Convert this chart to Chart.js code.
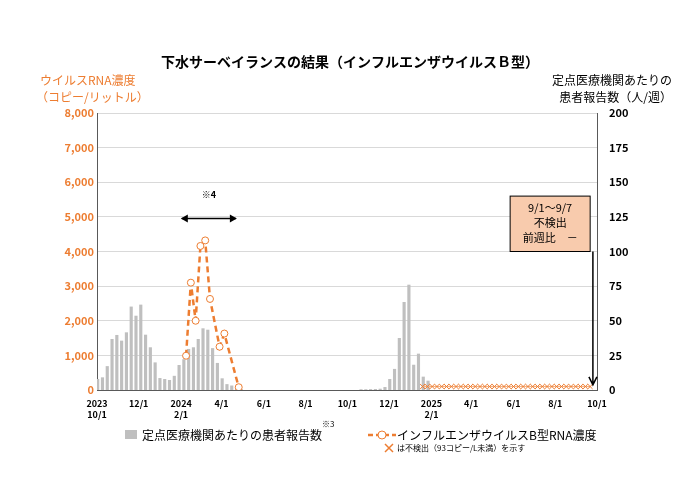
<!DOCTYPE html>
<html><head><meta charset="utf-8">
<script src="https://cdn.jsdelivr.net/npm/chart.js@4.4.1/dist/chart.umd.min.js"></script>
<style>html,body{margin:0;padding:0;background:#fff}#w{width:700px;height:495px;position:relative}</style>
</head><body><div id="w"><canvas id="c" width="700" height="495"></canvas></div>
<script>
// weeks since 2023-10-01
const patientWeeks = [0,1,2,3,4,5,6,7,8,9,10,11,12,13,14,15,16,17,18,19,20,21,22,23,24,25,26,27,28,29,30,
 55,56,57,58,59,60,61,62,63,64,65,66,67,68,69];
const patientValues = [7.7,8.9,17,36.6,39.5,35.4,41.4,60,53.4,61.4,39.7,30.6,19.7,8.4,7.7,7,10,17.8,22,29.4,30.6,36.6,44.3,43.3,30,19.3,8.2,4,3,1,0.5,
 0.3,0.3,0.4,0.5,0.7,1.9,7.7,15,37.3,63.3,75.8,18,26,9.4,6.5,3.2];
const rnaWeeks = [18.6,19.6,20.6,21.6,22.6,23.6,25.6,26.6,29.6];
const rnaValues = [990,3100,2000,4160,4320,2630,1250,1630,80];
const ndWeeks = [68,69,70,71,72,73,74,75,76,77,78,79,80,81,82,83,84,85,86,87,88,89,90,91,92,93,94,95,96,97,98,99,100,101,102,103];
const ndValue = 100;
const monthDays = [0,61,123,182,244,305,366,427,489,547,609,670,731];
const monthLabels = [["2023","10/1"],"12/1",["2024","2/1"],"4/1","6/1","8/1","10/1","12/1",["2025","2/1"],"4/1","6/1","8/1","10/1"];
const leftTicks = [0,1000,2000,3000,4000,5000,6000,7000,8000];
const rightTicks = [0,25,50,75,100,125,150,175,200];

const OR='#ED7D31', F='"Noto Sans CJK JP", sans-serif';
const annot = {id:'annot', afterDraw(ch){
  const c=ch.ctx, x=ch.scales.x, yl=ch.scales.yL;
  c.save();
  c.fillStyle='#000'; c.textAlign='center'; c.textBaseline='middle';
  c.font='bold 14px '+F; c.fillText('下水サーベイランスの結果（インフルエンザウイルスＢ型）',350,62);
  c.font='12px '+F; c.fillStyle=OR; c.textAlign='left';
  c.fillText('ウイルスRNA濃度',40,80); c.fillText('（コピー/リットル）',36,97);
  c.fillStyle='#000'; c.textAlign='right';
  c.fillText('定点医療機関あたりの',672,80); c.fillText('患者報告数（人/週）',672,97);
  // ※4 arrow
  const a1=x.getPixelForValue(124), a2=x.getPixelForValue(203), ay=yl.getPixelForValue(4950);
  c.strokeStyle='#000'; c.lineWidth=1.5; c.beginPath(); c.moveTo(a1,ay); c.lineTo(a2,ay); c.stroke();
  c.fillStyle='#000';
  c.beginPath(); c.moveTo(a1-1,ay); c.lineTo(a1+6,ay-4); c.lineTo(a1+6,ay+4); c.fill();
  c.beginPath(); c.moveTo(a2+1,ay); c.lineTo(a2-6,ay-4); c.lineTo(a2-6,ay+4); c.fill();
  c.font='bold 9px '+F; c.textAlign='center'; c.fillText('※4',(a1+a2)/2,ay-24);
  // box
  const bx1=x.getPixelForValue(604), bx2=x.getPixelForValue(721), by1=yl.getPixelForValue(5600), by2=yl.getPixelForValue(4000);
  c.fillStyle='#F8CBAD'; c.fillRect(bx1,by1,bx2-bx1,by2-by1); c.strokeStyle='#000'; c.lineWidth=1; c.strokeRect(bx1,by1,bx2-bx1,by2-by1);
  c.fillStyle='#000'; c.font='11px '+F; const bc=(bx1+bx2)/2;
  c.fillText('9/1～9/7',bc,by1+12); c.fillText('不検出',bc,by1+27); c.fillText('前週比　－',bc,by1+42);
  const ax=x.getPixelForValue(725), ab=yl.getPixelForValue(150);
  c.lineWidth=1.5; c.beginPath(); c.moveTo(ax,by2); c.lineTo(ax,ab); c.moveTo(ax-4,ab-8); c.lineTo(ax,ab); c.lineTo(ax+4,ab-8); c.stroke();
  // legend
  c.fillStyle='#BFBFBF'; c.fillRect(125,430,12,9);
  c.fillStyle='#000'; c.textAlign='left'; c.font='12px '+F; c.fillText('定点医療機関あたりの患者報告数',142,435);
  c.font='8px '+F; c.fillText('※3',322,424);
  c.strokeStyle=OR; c.lineWidth=2.5; c.setLineDash([5,3]); c.beginPath(); c.moveTo(368,435); c.lineTo(396,435); c.stroke(); c.setLineDash([]);
  c.lineWidth=1; c.fillStyle='#fff'; c.beginPath(); c.arc(382,435,4,0,Math.PI*2); c.fill(); c.stroke();
  c.fillStyle='#000'; c.font='12px '+F; c.fillText('インフルエンザウイルスB型RNA濃度',397,435);
  c.strokeStyle=OR; c.lineWidth=1.5; c.beginPath(); c.moveTo(385,444); c.lineTo(393,452); c.moveTo(393,444); c.lineTo(385,452); c.stroke();
  c.font='8px '+F; c.fillStyle='#000'; c.fillText('は不検出（93コピー/L未満）を示す',397,448);
  c.restore();
}};
new Chart(document.getElementById('c'),{
 data:{datasets:[
  {type:'line',label:'nd',data:ndWeeks.map(w=>({x:w*7,y:ndValue})),yAxisID:'yL',borderColor:'#F4B183',borderWidth:1,pointStyle:'crossRot',pointRadius:3.5,pointBorderColor:OR,pointBorderWidth:1,order:1},
  {type:'line',label:'rna',data:rnaWeeks.map((w,i)=>({x:w*7,y:rnaValues[i]})),yAxisID:'yL',borderColor:OR,borderWidth:2.5,borderDash:[6,4],pointRadius:3.5,pointBackgroundColor:'#fff',pointBorderColor:OR,pointBorderWidth:1,order:0},
  {type:'bar',label:'p',data:patientWeeks.map((w,i)=>({x:w*7+1,y:patientValues[i]})),yAxisID:'yR',backgroundColor:'#BFBFBF',barThickness:2.5,order:2}
 ]},
 options:{responsive:false,animation:false,
  layout:{padding:{left:35,right:63,top:113,bottom:75}},
  plugins:{legend:{display:false},tooltip:{enabled:false}},
  scales:{
   x:{type:'linear',min:0,max:731,offset:false,
     afterBuildTicks:s=>{s.ticks=monthDays.map(v=>({value:v}));},
     afterFit:s=>{s.height=30;},
     ticks:{autoSkip:false,maxRotation:0,font:{family:F,size:9,weight:'bold'},color:'#000',padding:4,callback:(v)=>monthLabels[monthDays.indexOf(v)]},
     grid:{display:false,drawTicks:true,tickLength:4,offset:false},border:{color:'#595959'}},
   yL:{position:'left',min:0,max:8000,afterFit:s=>{s.width=62;},
     afterBuildTicks:s=>{s.ticks=leftTicks.map(v=>({value:v}));},
     ticks:{font:{family:F,size:11,weight:'bold'},color:OR,callback:v=>v.toLocaleString('en-US')},
     grid:{color:'#D9D9D9',drawTicks:false},border:{color:'#595959'}},
   yR:{position:'right',min:0,max:200,afterFit:s=>{s.width=40;},
     afterBuildTicks:s=>{s.ticks=rightTicks.map(v=>({value:v}));},
     ticks:{font:{family:F,size:11,weight:'bold'},color:'#000',padding:8},
     grid:{display:false,drawTicks:true,tickLength:4},border:{color:'#595959'}}
  }},
 plugins:[annot]
});
</script></body></html>
